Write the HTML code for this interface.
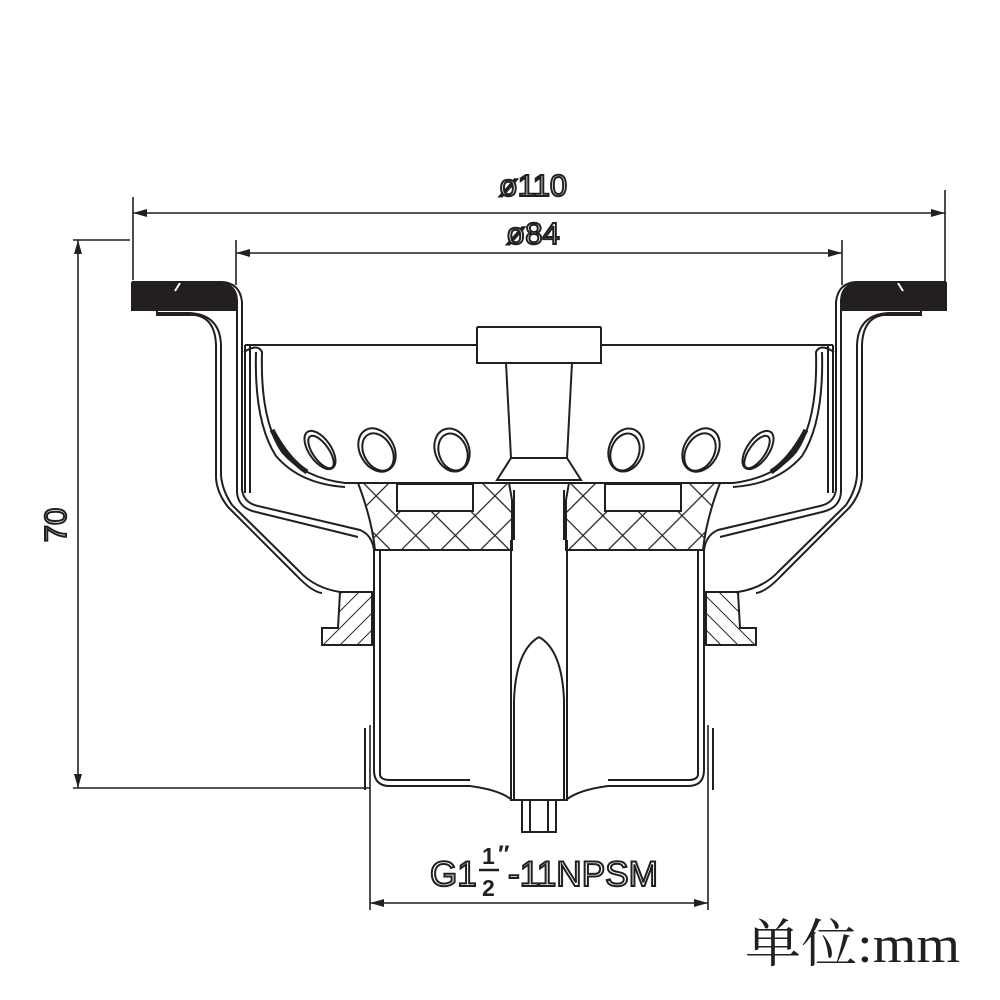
<!DOCTYPE html>
<html><head><meta charset="utf-8"><style>html,body{margin:0;padding:0;background:#fff}svg{display:block}</style></head>
<body>
<svg width="1000" height="1000" viewBox="0 0 1000 1000" xmlns="http://www.w3.org/2000/svg">
<defs>
<pattern id="xh" width="28" height="28" patternUnits="userSpaceOnUse" patternTransform="rotate(45)">
<path d="M0 0H28M0 0V28" stroke="#231f20" stroke-width="2.4"/>
</pattern>
<pattern id="hh" width="12" height="12" patternUnits="userSpaceOnUse" patternTransform="rotate(45)">
<path d="M0 0V12" stroke="#231f20" stroke-width="2"/>
</pattern>
<g id="half" fill="none" stroke="#231f20" stroke-width="2">
 <path d="M132 283 H222 Q236 285 237 300 V310 H132 Z" fill="#231f20"/>
 <path d="M180 283 L175 291" stroke="#fff"/>
 <path d="M132 282 H222 Q240 283 242 302 V490 Q244 503 258 506 L360 530 Q372 535 374 550"/>
 <path d="M237 300 V492 Q238 508 256 512 L358 537"/>
 <path d="M157 313 H190 Q220 315 221 345 V475 Q222 490 232 505 L300 572 Q315 588 340 592"/>
 <path d="M157 310 V315 H195 Q215 318 216 345 V478 Q217 493 228 507 L296 575 Q312 592 322 593"/>
 <path d="M245 345 H539"/>
 <path d="M245 345 V493 M250 345 V493"/>
 <path d="M244 352 Q258 343 262 352 Q260 420 282 452 Q304 478 345 483 H539"/>
 <path d="M256 352 Q254 422 276 456 Q300 484 345 487"/>
 <path d="M272 430 Q288 460 307 472" stroke-width="5"/>
 <ellipse cx="320" cy="450" rx="11" ry="22" transform="rotate(-35 320 450)"/>
 <ellipse cx="321" cy="452" rx="8" ry="19" transform="rotate(-35 321 452)"/>
 <ellipse cx="377" cy="450" rx="17" ry="23" transform="rotate(-30 377 450)"/>
 <ellipse cx="378" cy="452" rx="14" ry="20" transform="rotate(-30 378 452)"/>
 <ellipse cx="452" cy="450" rx="17" ry="22" transform="rotate(-20 452 450)"/>
 <ellipse cx="453" cy="452" rx="14" ry="19" transform="rotate(-20 453 452)"/>
 <path d="M358 483 H509 L512 500 V550 H375 Q372 520 358 483 Z" fill="url(#xh)"/>
 <rect x="397" y="484" width="76" height="27" fill="#fff"/>
 <path d="M374 550 V770 Q374 786 390 786 H470"/>
 <path d="M380 550 V775 Q381 780 390 780 H470"/>
 <path d="M365 728 V790"/>
 <path d="M470 786 Q500 790 512 800"/>
 <path d="M340 592 H372 V645 H322 V628 H338 Z" fill="url(#hh)"/>
 <rect x="477" y="327" width="62" height="36" fill="#fff" stroke="none"/>
 <path d="M477 327 H539 M477 327 V363 H539 M506 363 L511 458 H539 M511 458 L497 480 H539 M514 490 V540 M511 540 V800 H539 M522 800 V832 H539 M530 800 V832"/>
 <path d="M514 800 V700 Q516 650 539 637"/>
</g>
</defs>
<use href="#half"/>
<use href="#half" transform="translate(1078 0) scale(-1 1)"/>
<g stroke="#231f20" stroke-width="1.6" fill="none">
 <path d="M133 197 V280 M945 190 V282 M236 240 V285 M842 240 V285"/>
 <path d="M133 213 H945 M236 253 H842"/>
 <path d="M78 240 V788 M73 240 H130 M73 788 H370"/>
 <path d="M370 725 V910 M708 725 V910 M370 903 H708"/>
</g>
<g fill="#231f20">
 <path d="M133 213 l14 -4 v8 Z M945 213 l-14 -4 v8 Z M236 253 l14 -4 v8 Z M842 253 l-14 -4 v8 Z"/>
 <path d="M78 240 l-4 14 h8 Z M78 788 l-4 -14 h8 Z"/>
 <path d="M370 903 l14 -4 v8 Z M708 903 l-14 -4 v8 Z"/>
</g>
<g font-family="Liberation Sans, sans-serif" fill="#fff" stroke="#231f20" stroke-width="2">
 <text x="533" y="196" font-size="31" text-anchor="middle">ø110</text>
 <text x="533" y="244" font-size="31" text-anchor="middle">ø84</text>
 <text x="66" y="525" font-size="31" text-anchor="middle" transform="rotate(-90 66 525)">70</text>
 <text x="430" y="886" font-size="35">G1</text>
 <text x="482" y="864" font-size="23" font-weight="bold" fill="#231f20" stroke="none">1</text>
 <text x="482" y="896" font-size="23" font-weight="bold" fill="#231f20" stroke="none">2</text>
 <text x="498" y="862" font-size="24" font-weight="bold" fill="#231f20" stroke="none">″</text>
 <text x="508" y="886" font-size="35" textLength="150" lengthAdjust="spacingAndGlyphs">-11NPSM</text>
</g>
<path d="M479 870 H499" stroke="#231f20" stroke-width="2.4"/>
<text x="745" y="962" font-family="Liberation Serif, 'Noto Serif CJK SC', serif" font-size="52" fill="#231f20" textLength="215" lengthAdjust="spacingAndGlyphs">单位:mm</text>
</svg>
</body></html>
